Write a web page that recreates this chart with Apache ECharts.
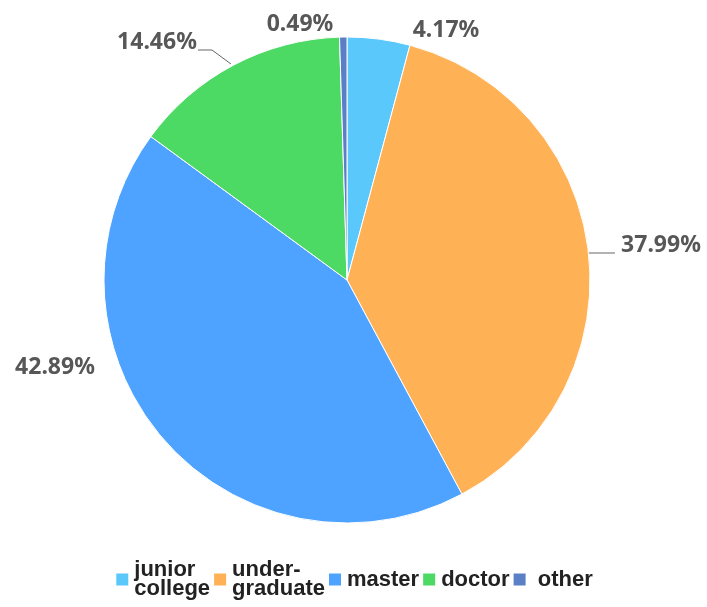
<!DOCTYPE html>
<html>
<head>
<meta charset="utf-8">
<script src="https://cdn.jsdelivr.net/npm/echarts@6/dist/echarts.min.js"></script>
<style>
  html, body { margin: 0; padding: 0; background: #fff; }
  #chart { width: 707px; height: 607px; }
</style>
</head>
<body>
<div id="chart"></div>
<script>
var names = ["junior\ncollege", "under-\ngraduate", "master", "doctor", " other"];
var values = [4.17, 37.99, 42.89, 14.46, 0.49];
var colors = ["#5AC8FA", "#FFB155", "#4DA3FF", "#4CD964", "#5B7FC7"];

// 标签摆放位置 (中心点) 和引导线
var labelPos = [[446, 30], [661, 245], [55, 367], [157, 42], [300, 24]];
var linePts = [null, [[587, 253], [615, 253]], null, [[231, 64], [212, 50], [198, 50]], null];

var myChart = echarts.init(document.getElementById("chart"));
myChart.setOption({
  color: colors,
  legend: {
    top: 554,
    left: "center",
    itemWidth: 14,
    itemHeight: 14,
    itemGap: 2,
    icon: "rect",
    textStyle: {
      fontSize: 22,
      fontWeight: "bold",
      color: "#222",
      fontFamily: "Liberation Sans",
      lineHeight: 19
    },
    data: names
  },
  series: [
    {
      type: "pie",
      center: [347, 280],
      radius: 243,
      startAngle: 90,
      data: names.map(function (n, i) {
        return {
          name: n,
          value: values[i],
          labelLine: { show: !!linePts[i] }
        };
      }),
      itemStyle: {
        borderColor: "#fff",
        borderWidth: 1
      },
      label: {
        formatter: "{d}%",
        color: "#575757",
        fontSize: 23,
        fontWeight: "bold",
        fontFamily: "Noto Sans",
        overflow: "none"
      },
      labelLine: {
        lineStyle: { color: "#666", width: 1 }
      },
      labelLayout: function (p) {
        var i = p.dataIndex;
        var o = {
          x: labelPos[i][0],
          y: labelPos[i][1],
          align: "center",
          verticalAlign: "middle"
        };
        if (linePts[i]) o.labelLinePoints = linePts[i];
        return o;
      }
    }
  ]
});
</script>
</body>
</html>
